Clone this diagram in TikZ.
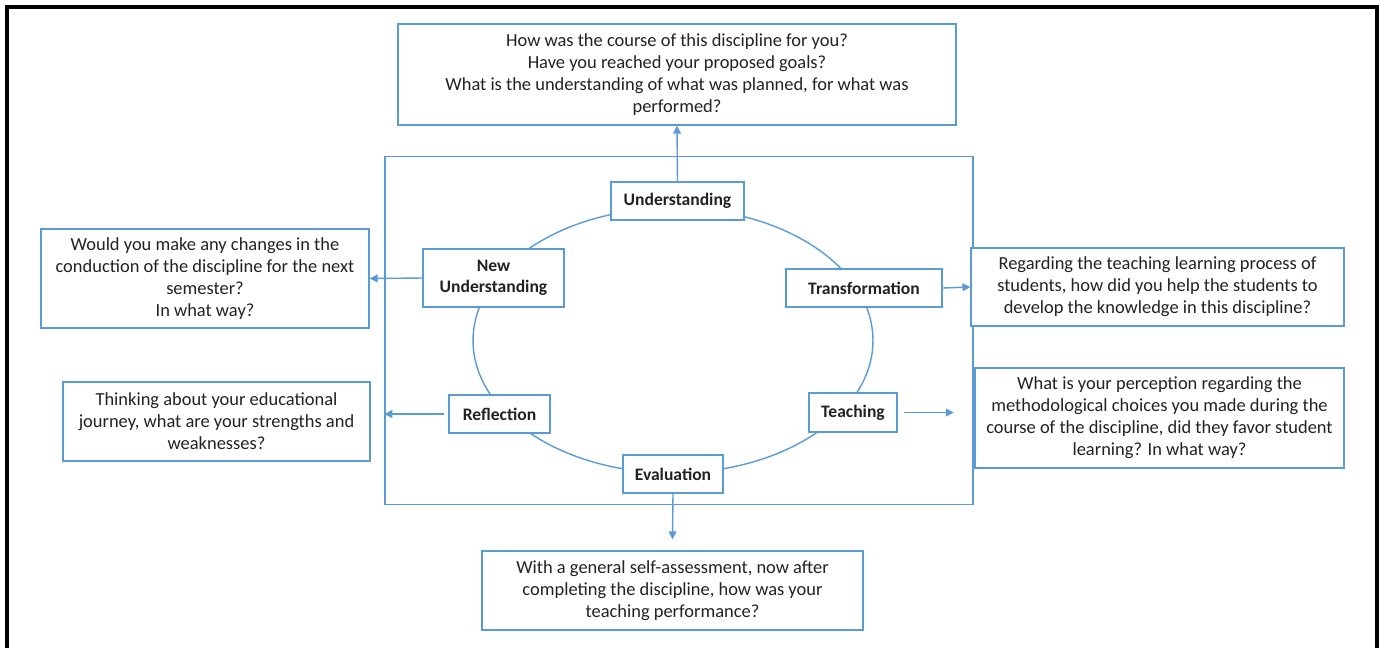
\documentclass[tikz,border=0pt]{standalone}
\usepackage{fontspec}
\setmainfont{Carlito}
\usetikzlibrary{arrows.meta,calc}
\definecolor{CycleBlue}{HTML}{5B9BD5}
\definecolor{CycleText}{HTML}{222222}

\begin{document}
\begin{tikzpicture}[x=0.02cm,y=-0.02cm,>={Triangle[length=4.5pt,width=4.5pt]},
  font=\fontsize{10.5}{12.5}\selectfont,text=CycleText,
  qbox/.style={draw=CycleBlue,line width=0.8pt,fill=white,align=center,inner sep=0pt},
  stage/.style={qbox,font=\fontsize{10}{12}\selectfont\bfseries},
  link/.style={->,CycleBlue,line width=0.8pt}]
  \useasboundingbox (0,0) rectangle (1380,647);
  \draw[line width=1.8pt] (7,660)--(7,7)--(1377,7)--(1377,660);
  % inner frame and cycle
  \node[draw=CycleBlue,line width=0.8pt,minimum width=11.76cm,minimum height=6.96cm] (frame) at (679,330.5) {};
  \draw[CycleBlue,line width=0.8pt] (673,340.5) ellipse [x radius=4cm,y radius=2.65cm];
  \node[stage,minimum width=2.66cm,minimum height=0.76cm] (und) at (677.5,201) {Understanding};
  \node[stage,minimum width=2.82cm,minimum height=1.16cm] (newund) at (493.5,278) {New\\Understanding};
  \node[stage,minimum width=3.12cm,minimum height=0.76cm] (trans) at (864,288) {Transformation};
  \node[stage,minimum width=2.02cm,minimum height=0.76cm] (refl) at (499.5,414) {Reflection};
  \node[stage,minimum width=1.76cm,minimum height=0.78cm] (teach) at (853,412.5) {Teaching};
  \node[stage,minimum width=2cm,minimum height=0.76cm] (eval) at (673,474) {Evaluation};
  % questions
  \node[qbox,minimum width=11.16cm,minimum height=2.02cm] (qund) at (677,74.5)
    {How was the course of this discipline for you?\\Have you reached your proposed goals?\\What is the understanding of what was planned, for what was\\performed?};
  \node[qbox,minimum width=6.56cm,minimum height=1.98cm] (qnew) at (205,278.5)
    {Would you make any changes in the\\conduction of the discipline for the next\\semester?\\In what way?};
  \node[qbox,minimum width=7.46cm,minimum height=1.56cm] (qtrans) at (1157.5,287)
    {Regarding the teaching learning process of\\students, how did you help the students to\\develop the knowledge in this discipline?};
  \node[qbox,minimum width=6.14cm,minimum height=1.58cm] (qrefl) at (216.5,421.5)
    {Thinking about your educational\\journey, what are your strengths and\\weaknesses?};
  \node[qbox,minimum width=7.38cm,minimum height=2cm] (qteach) at (1159.5,418)
    {What is your perception regarding the\\methodological choices you made during the\\course of the discipline, did they favor student\\learning? In what way?};
  \node[qbox,minimum width=7.62cm,minimum height=1.58cm] (qeval) at (672.5,590.5)
    {With a general self-assessment, now after\\completing the discipline, how was your\\teaching performance?};
  % links
  \draw[link] (und.north) -- (qund.south);
  \draw[link] (newund.west) -- (qnew.east);
  \draw[link] (trans.east) -- (qtrans.west);
  \draw[link] ([xshift=-0.08cm]refl.west) -- (refl.west -| frame.west);
  \draw[link] ([xshift=0.12cm]teach.east) -- ++(1cm,0);
  \draw[link] (eval.south) -- ([yshift=0.22cm]qeval.north);
\end{tikzpicture}
\end{document}
